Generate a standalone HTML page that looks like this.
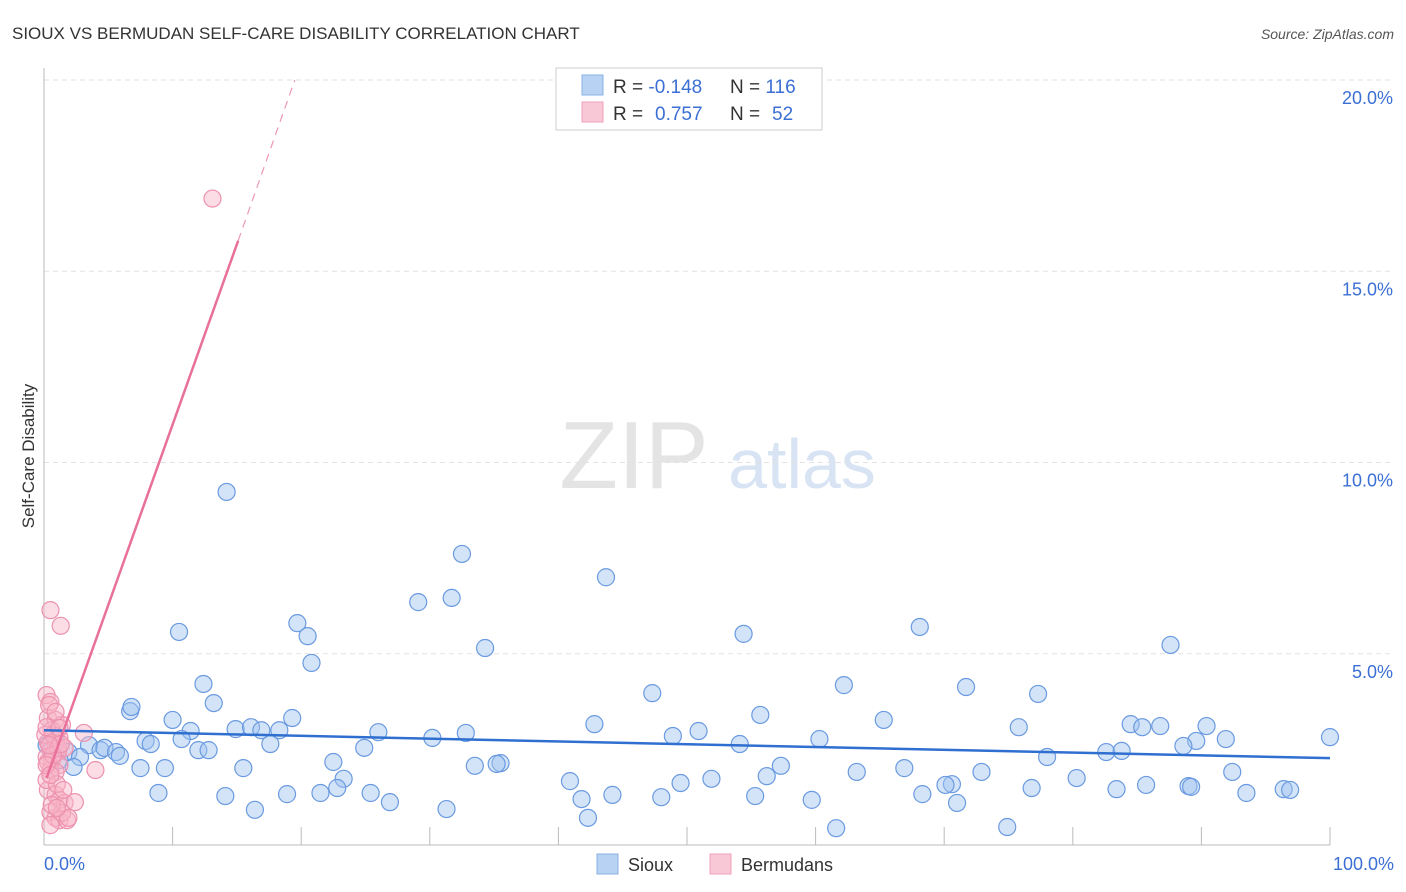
<!DOCTYPE html>
<html><head><meta charset="utf-8">
<style>
body{margin:0;background:#fff;font-family:"Liberation Sans",sans-serif;}
#wrap{position:relative;width:1406px;height:892px;overflow:hidden;}
svg text{font-family:"Liberation Sans",sans-serif;}
</style></head>
<body>
<div id="wrap">
<svg id="svg" width="1406" height="892">
<text x="12" y="39" font-size="17" fill="#333">SIOUX VS BERMUDAN SELF-CARE DISABILITY CORRELATION CHART</text>
<text x="1394" y="39" font-size="14" fill="#555" text-anchor="end" font-style="italic">Source: ZipAtlas.com</text>
<text x="634" y="488" font-size="96" fill="#e4e4e4" font-family="Liberation Serif" text-anchor="middle">ZIP</text>
<text x="802" y="488" font-size="70" fill="#d8e4f4" text-anchor="middle">atlas</text>
<text transform="translate(34,456) rotate(-90)" font-size="17" fill="#333" text-anchor="middle">Self-Care Disability</text>
<g id="grid"></g><g id="pts"></g><g id="lines"></g>
<g>
<rect x="556" y="68" width="266" height="62" fill="#fff" stroke="#ccc"/>
<rect x="582" y="75" width="21" height="20" fill="#b8d2f4" stroke="#8ab0e6"/>
<rect x="582" y="102" width="21" height="20" fill="#f9c8d6" stroke="#f0a0b8"/>
<text x="613" y="93" font-size="19" fill="#333">R = <tspan fill="#3b6fd4">-0.148</tspan></text>
<text x="730" y="93" font-size="19" fill="#333">N = <tspan fill="#3b6fd4">116</tspan></text>
<text x="613" y="120" font-size="19" fill="#333">R = <tspan fill="#3b6fd4" x="655">0.757</tspan></text>
<text x="730" y="120" font-size="19" fill="#333">N = <tspan fill="#3b6fd4" x="772">52</tspan></text>
</g>
<g>
<rect x="597" y="854" width="21" height="20" fill="#b8d2f4" stroke="#8ab0e6"/>
<text x="628" y="871" font-size="18" fill="#333">Sioux</text>
<rect x="710" y="854" width="21" height="20" fill="#f9c8d6" stroke="#f0a0b8"/>
<text x="741" y="871" font-size="18" fill="#333">Bermudans</text>
</g>
</svg>
</div>
<script>
const yTicks=[5,10,15,20];
const yTickLabels=["5.0%","10.0%","15.0%","20.0%"];
const xTicks=[10,20,30,40,50,60,70,80,90,100];
const xEndLabels=["0.0%","100.0%"];
const siouxX=[14.2,32.5,43.7,29.1,31.7,19.7,20.5,10.5,54.4,34.3,20.8,68.1,87.6,12.4,13.2,6.7,6.8,19.3,10.0,47.3,62.2,71.7,77.3,55.7,65.3,42.8,75.8,84.5,85.4,86.8,90.4,14.9,16.1,16.9,18.3,26.0,11.4,10.7,7.9,8.3,30.2,32.8,48.9,50.9,60.3,54.1,17.6,12.0,12.8,24.9,89.6,91.9,88.6,100,82.6,83.8,78.0,3.5,4.4,4.7,5.6,5.9,1.9,2.8,2.3,7.5,9.4,15.5,22.5,33.5,35.5,35.2,57.3,56.2,66.9,63.2,72.9,92.4,80.3,23.3,40.9,49.5,51.9,70.6,70.1,85.7,89.0,89.2,8.9,14.1,18.9,21.5,22.8,25.4,26.9,44.2,41.8,48.0,55.3,59.7,68.3,76.8,83.4,93.5,96.4,96.9,16.4,31.3,42.3,71.0,61.6,74.9,0.2,0.5,0.9,1.2];
const siouxY=[9.23,7.61,7.0,6.35,6.46,5.8,5.46,5.57,5.52,5.15,4.76,5.7,5.23,4.21,3.71,3.5,3.61,3.32,3.27,3.97,4.18,4.13,3.95,3.4,3.27,3.16,3.08,3.16,3.08,3.11,3.11,3.03,3.08,3.0,3.0,2.95,2.98,2.77,2.72,2.64,2.8,2.93,2.85,2.98,2.77,2.64,2.64,2.48,2.48,2.54,2.72,2.77,2.59,2.82,2.43,2.46,2.3,2.61,2.48,2.54,2.43,2.33,2.43,2.3,2.04,2.01,2.01,2.01,2.17,2.07,2.14,2.12,2.07,1.8,2.01,1.91,1.91,1.91,1.75,1.73,1.67,1.62,1.73,1.59,1.57,1.57,1.54,1.52,1.36,1.28,1.33,1.36,1.49,1.36,1.12,1.31,1.2,1.25,1.28,1.18,1.33,1.49,1.46,1.36,1.46,1.44,0.92,0.94,0.71,1.1,0.44,0.47,2.61,2.48,2.75,2.22];
const bermX=[0.5,1.3,0.2,0.5,0.3,0.9,1.4,0.6,1.2,0.3,0.9,0.5,1.1,0.2,0.6,1.2,0.5,0.9,3.1,4.0,0.3,0.9,1.2,1.6,2.4,0.5,0.9,1.2,1.8,1.4,0.5,13.1,0.1,0.7,1.1,0.3,0.2,1.0,1.5,0.6,0.4,0.9,1.6,0.2,0.7,1.2,0.2,0.5,1.9,1.0,1.3,0.4];
const bermY=[6.14,5.73,3.92,3.74,3.32,3.27,3.14,3.0,2.8,2.69,2.61,2.48,2.43,2.3,2.22,2.09,1.96,1.91,2.93,1.96,1.44,1.31,1.18,1.1,1.12,0.86,0.71,0.65,0.65,0.84,0.52,16.9,2.88,2.88,2.54,2.17,1.7,1.59,1.44,1.05,3.66,3.48,2.54,3.08,2.35,3.06,2.09,1.83,0.71,0.97,2.64,2.61];
const siouxTrend=[[0,3.0],[100,2.27]];
const bermTrendSolid=[[0.2,1.75],[15.1,15.8]];
const bermTrendDash=[[15.1,15.8],[19.5,20.0]];

const NS='http://www.w3.org/2000/svg';
const X0=44,X1=1330,Y0=845,Y20=80;
const xs=v=>X0+(X1-X0)*v/100;
const ys=v=>Y0-(Y0-Y20)*v/20;
function mk(tag,attrs,parent){const e=document.createElementNS(NS,tag);for(const k in attrs)e.setAttribute(k,attrs[k]);parent.appendChild(e);return e;}
const grid=document.getElementById('grid'),pts=document.getElementById('pts'),lines=document.getElementById('lines');
yTicks.forEach((t,i)=>{
 const l=mk('line',{x1:X0,x2:1394,y1:ys(t),y2:ys(t),stroke:'#e2e2e2','stroke-dasharray':'5,4'},grid);
 
 
 const tx=mk('text',{x:1393,y:ys(t)+24,'font-size':18,fill:'#3b6fd4','text-anchor':'end'},grid);
 tx.textContent=yTickLabels[i];
 
 
});
const ax=mk('line',{x1:X0,x2:X0,y1:68,y2:Y0,stroke:'#bbb'},grid);


const bx=mk('line',{x1:X0,x2:X1,y1:Y0,y2:Y0,stroke:'#bbb'},grid);


xTicks.forEach(t=>{
 const l=mk('line',{x1:xs(t),x2:xs(t),y1:Y0-18,y2:Y0,stroke:'#bbb'},grid);
 
 
});
[[0,'start',44],[100,'end',1394]].forEach((d,i)=>{
 const tx=mk('text',{x:d[2],y:870,'font-size':18,fill:'#3b6fd4','text-anchor':d[1]},grid);
 tx.textContent=xEndLabels[i];
 
 
});
siouxX.forEach((v,i)=>{
 const c=mk('circle',{cx:xs(v),cy:ys(siouxY[i]),r:8.5,fill:'rgba(160,196,240,0.45)',stroke:'#6a9ae0','stroke-width':1.2},pts);
 
 
});
bermX.forEach((v,i)=>{
 const c=mk('circle',{cx:xs(v),cy:ys(bermY[i]),r:8.5,fill:'rgba(248,180,200,0.45)',stroke:'#ec92ae','stroke-width':1.2},pts);
 
 
});
function seg(p,attrs,name){const l=mk('line',Object.assign({x1:xs(p[0][0]),y1:ys(p[0][1]),x2:xs(p[1][0]),y2:ys(p[1][1])},attrs),lines);
 
 }
seg(siouxTrend,{stroke:'#2f6fd0','stroke-width':2.5},'sioux-trend-line');
seg(bermTrendSolid,{stroke:'#e8709a','stroke-width':2.5},'bermudan-trend-line');
seg(bermTrendDash,{stroke:'#ec98b4','stroke-width':1.2,'stroke-dasharray':'8,6'},'bermudan-trend-extension');
</script>
</body></html>
